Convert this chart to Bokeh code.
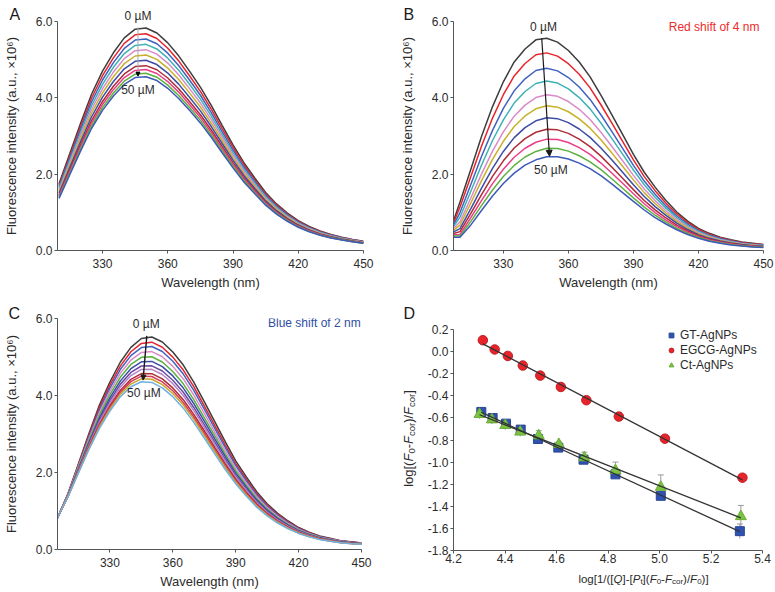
import numpy as np
from bokeh.plotting import figure
from bokeh.layouts import row, column
from bokeh.models import (Label, Arrow, NormalHead, Legend, LegendItem, Whisker,
                          ColumnDataSource, FixedTicker, NumeralTickFormatter, Range1d, TeeHead)
from bokeh.embed import file_html
from bokeh.resources import INLINE

FONT = "Liberation Sans"
TXT = "#2b2b2b"
AX = "#555555"

# ---------------- data: panel A ----------------
A_wl = list(range(310, 451, 5))
A_base = [1.75, 2.55, 3.35, 4.10, 4.70, 5.18, 5.57, 5.80, 5.83, 5.70, 5.44, 5.10, 4.70, 4.28, 3.80,
          3.28, 2.77, 2.30, 1.90, 1.52, 1.22, 0.98, 0.78, 0.63, 0.51, 0.42, 0.35, 0.29, 0.24]
A_peaks = [5.85, 5.70, 5.56, 5.42, 5.28, 5.14, 5.00, 4.86, 4.76, 4.66, 4.57]
A_peak_nm = [346.3] * 11

# ---------------- data: panel B ----------------
B_wl = [307] + list(range(310, 451, 5))
B_base = [0.78, 1.27, 2.13, 3.00, 3.77, 4.42, 4.94, 5.28, 5.52, 5.56, 5.46, 5.24, 4.94, 4.55, 4.07,
          3.56, 3.04, 2.52, 2.05, 1.66, 1.31, 1.01, 0.77, 0.58, 0.45, 0.35, 0.28, 0.22, 0.19, 0.16]
B_peaks = [5.56, 5.18, 4.78, 4.45, 4.09, 3.80, 3.49, 3.19, 2.93, 2.69, 2.47]
B_peak_nm = [347.7, 348.0, 348.4, 348.8, 349.2, 349.5, 349.9, 350.2, 350.6, 350.9, 351.3]

# ---------------- data: panel C ----------------
C_wl = list(range(305, 451, 5))
C_base = [0.82, 1.45, 2.23, 3.01, 3.75, 4.35, 4.87, 5.25, 5.48, 5.52, 5.39, 5.13, 4.79, 4.35, 3.84,
          3.32, 2.80, 2.30, 1.89, 1.50, 1.19, 0.94, 0.74, 0.57, 0.45, 0.35, 0.29, 0.23, 0.20, 0.17]
C_peaks = [5.55, 5.42, 5.31, 5.18, 5.05, 4.93, 4.82, 4.73, 4.62, 4.55, 4.48, 4.40]
C_peak_nm = [347.6, 347.4, 347.3, 347.1, 346.9, 346.8, 346.6, 346.5, 346.3, 346.1, 346.0, 345.8]

AB_colors = ["#3d3d3d", "#e8242b", "#4063c0", "#3fb1b5", "#d98bc9", "#c7b12a",
             "#3b4da6", "#ae2b38", "#ea3f86", "#5cb13f", "#3e5ab8"]
C_colors = ["#3d3d3d", "#e8242b", "#4063c0", "#d98bc9", "#5cb13f", "#3b4da6",
            "#6c4ba0", "#b583c9", "#ae2b38", "#d63c5a", "#c7a62a", "#6fb0e5"]

# ---------------- data: panel D ----------------
D_x_gt = [4.308, 4.352, 4.404, 4.461, 4.528, 4.607, 4.705, 4.829, 5.005, 5.312]
D_y_gt = [-0.546, -0.601, -0.652, -0.706, -0.791, -0.869, -0.978, -1.111, -1.305, -1.625]
D_err_gt = [0.01, 0.01, 0.01, 0.01, 0.01, 0.01, 0.01, 0.01, 0.02, 0.065]
D_x_egcg = [4.314, 4.360, 4.411, 4.469, 4.537, 4.617, 4.716, 4.842, 5.021, 5.322]
D_y_egcg = [0.103, 0.019, -0.039, -0.126, -0.217, -0.320, -0.440, -0.588, -0.788, -1.141]
D_x_ct = [4.301, 4.349, 4.401, 4.459, 4.531, 4.609, 4.708, 4.829, 5.005, 5.316]
D_y_ct = [-0.567, -0.616, -0.667, -0.727, -0.761, -0.839, -0.960, -1.075, -1.226, -1.492]
D_err_ct = [0.04, 0.04, 0.04, 0.04, 0.045, 0.02, 0.05, 0.075, 0.11, 0.10]

# char widths (Arial metrics, em) for composite labels
CW = {'l': .222, 'o': .556, 'g': .556, '[': .278, ']': .278, '(': .333, ')': .333, 'F': .611,
      '-': .333, 'c': .5, 'r': .333, '/': .278, '0': .556, '1': .556, 'Q': .778, 'P': .667, 't': .278}


def tw(s, fs):
    return sum(CW.get(ch, 0.55) for ch in s) * fs


def rich(p, segs, cx, cy, fs, sfs, vertical=False, drop=3):
    widths = [tw(t, sfs if sub else fs) for t, it, sub in segs]
    pos = -sum(widths) / 2
    for (t, it, sub), w in zip(segs, widths):
        kw = dict(text=t, x_units="screen", y_units="screen", text_font=FONT,
                  text_font_size=f"{sfs if sub else fs}px",
                  text_font_style="italic" if it else "normal", text_color=TXT,
                  text_align="left", text_baseline="alphabetic")
        if vertical:
            lab = Label(x=cx + (drop if sub else 0), y=cy + pos, angle=np.pi / 2, **kw)
        else:
            lab = Label(x=cx + pos, y=cy - (drop if sub else 0), **kw)
        p.add_layout(lab)
        pos += w


def style(p, xticks, yticks, xfmt=None):
    p.outline_line_color = None
    p.xgrid.visible = False
    p.ygrid.visible = False
    p.xaxis.ticker = FixedTicker(ticks=xticks)
    p.yaxis.ticker = FixedTicker(ticks=yticks)
    p.yaxis.formatter = NumeralTickFormatter(format="0.0")
    if xfmt:
        p.xaxis.formatter = NumeralTickFormatter(format=xfmt)
    for ax in p.axis:
        ax.axis_line_color = AX
        ax.major_tick_line_color = AX
        ax.major_tick_out = 3
        ax.major_tick_in = 0
        ax.minor_tick_out = 0
        ax.minor_tick_in = 0
        ax.major_label_text_font = FONT
        ax.major_label_text_font_size = "12px"
        ax.major_label_text_color = TXT
        ax.axis_label_text_font = FONT
        ax.axis_label_text_font_size = "13px"
        ax.axis_label_text_font_style = "normal"
        ax.axis_label_text_color = TXT
    p.xaxis.major_label_standoff = 5
    p.yaxis.major_label_standoff = 2
    p.xaxis.axis_label_standoff = 4
    p.yaxis.axis_label_standoff = 14


def letter(p, t, x, y, xo, yo):
    p.add_layout(Label(x=x, y=y, x_offset=xo, y_offset=yo, text=t, text_font=FONT,
                       text_font_size="16px", text_color="#1a1a1a", text_baseline="alphabetic"), "above")


def note(p, t, x, y, color=TXT, side=None, yo=0):
    lab = Label(x=x, y=y, y_offset=yo, text=t, text_font=FONT, text_font_size="12px", text_color=color,
                text_align="center", text_baseline="middle")
    if side:
        p.add_layout(lab, side)
    else:
        p.add_layout(lab)


def spectra(width, height, xstart, mb, wl, base, peaks, peak_nm, colors):
    p = figure(width=width, height=height, x_range=Range1d(xstart, 450), y_range=Range1d(0, 6.0),
               output_backend="svg", toolbar_location=None,
               min_border_left=mb[0], min_border_right=mb[1], min_border_top=mb[2], min_border_bottom=mb[3])
    style(p, [330, 360, 390, 420, 450], [0, 2, 4, 6])
    p.xaxis.axis_label = "Wavelength (nm)"
    p.yaxis.axis_label = "Fluorescence intensity (a.u., \u00d710\u2076)"
    wl = np.array(wl, float)
    base = np.array(base, float)
    for pk, nm, c in zip(peaks, peak_nm, colors):
        shift = nm - peak_nm[0]
        y = np.interp(wl - shift, wl, base) * pk / peaks[0]
        p.line(wl, y, line_color=c, line_width=1.5)
    return p


def blank(width, height):
    p = figure(width=width, height=height, x_range=Range1d(0, 1), y_range=Range1d(0, 1),
               output_backend="svg", toolbar_location=None, min_border=0,
               min_border_left=0, min_border_right=0, min_border_top=0, min_border_bottom=0,
               x_axis_location=None, y_axis_location=None)
    p.outline_line_color = None
    p.grid.visible = False
    return p


# ---------------- Panel A ----------------
A_x0 = 309.3
pA = spectra(390, 292, A_x0, (53, 27, 21, 40), A_wl, A_base, A_peaks, A_peak_nm, AB_colors)
pA.add_layout(Arrow(x_start=A_peak_nm[0], y_start=A_peaks[0], x_end=A_peak_nm[-1], y_end=A_peaks[-1],
                    line_color="#aaaaaa", line_width=1,
                    end=NormalHead(size=4, fill_color="black", line_color="black")))
note(pA, "0 \u00b5M", A_peak_nm[0], 6.0, side="right", yo=6)
note(pA, "50 \u00b5M", A_peak_nm[-1], A_peaks[-1] - 0.36)
letter(pA, "A", A_x0, 6.0, -48, 7)

# ---------------- Panel B ----------------
B_x0 = 307
pB = spectra(385, 292, B_x0, (63, 12, 21, 40), B_wl, B_base, B_peaks, B_peak_nm, AB_colors)
pB.add_layout(Arrow(x_start=B_peak_nm[0], y_start=B_peaks[0], x_end=B_peak_nm[-1], y_end=B_peaks[-1],
                    line_color="#1a1a1a", line_width=1.2,
                    end=NormalHead(size=6, fill_color="#1a1a1a", line_color="#1a1a1a")))
note(pB, "0 \u00b5M", B_peak_nm[0] + 0.8, B_peaks[0] + 0.30)
note(pB, "50 \u00b5M", B_peak_nm[-1] + 0.6, B_peaks[-1] - 0.36)
note(pB, "Red shift of 4 nm", 427.2, 5.86, "#ee2a2a")
letter(pB, "B", B_x0, 6.0, -50, 7)

# ---------------- Panel C ----------------
C_x0 = 305
pC = spectra(385, 299, C_x0, (53, 24, 26, 42), C_wl, C_base, C_peaks, C_peak_nm, C_colors)
pC.add_layout(Arrow(x_start=C_peak_nm[0], y_start=C_peaks[0], x_end=C_peak_nm[-1], y_end=C_peaks[-1],
                    line_color="#1a1a1a", line_width=1.4,
                    end=NormalHead(size=5, fill_color="#1a1a1a", line_color="#1a1a1a")))
note(pC, "0 \u00b5M", C_peak_nm[0] - 0.3, C_peaks[0] + 0.30)
note(pC, "50 \u00b5M", C_peak_nm[-1] + 0.4, C_peaks[-1] - 0.33)
note(pC, "Blue shift of 2 nm", 427.5, 5.88, "#2f4ea3")
letter(pC, "C", C_x0, 6.0, -49, 5)

# ---------------- Panel D ----------------
pD = figure(width=356, height=276, x_range=Range1d(4.2, 5.4), y_range=Range1d(-1.8, 0.2),
            output_backend="svg", toolbar_location=None,
            min_border_left=34, min_border_right=13, min_border_top=37, min_border_bottom=18)
style(pD, [4.2, 4.4, 4.6, 4.8, 5.0, 5.2, 5.4],
      [-1.8, -1.6, -1.4, -1.2, -1.0, -0.8, -0.6, -0.4, -0.2, 0.0, 0.2], xfmt="0.0")
pD.xaxis.major_label_standoff = 0

for xs, ys, es in [(D_x_gt, D_y_gt, D_err_gt), (D_x_ct, D_y_ct, D_err_ct)]:
    src = ColumnDataSource(dict(x=xs, upper=[a + b for a, b in zip(ys, es)],
                                lower=[a - b for a, b in zip(ys, es)]))
    pD.add_layout(Whisker(source=src, base="x", upper="upper", lower="lower", dimension="height",
                          line_color="#9a9a9a", line_width=1, level="underlay",
                          upper_head=TeeHead(size=6, line_color="#9a9a9a", line_width=1),
                          lower_head=None))

r_gt = pD.scatter(D_x_gt, D_y_gt, marker="square", size=9, fill_color="#2f52b0", line_color="#2a4596")
r_eg = pD.scatter(D_x_egcg, D_y_egcg, marker="circle", size=9.5, fill_color="#e8232a", line_color="#c01f25")
r_ct = pD.scatter(D_x_ct, D_y_ct, marker="triangle", size=11, fill_color="#7cc242", line_color="#6aae36")

for xs, ys in [(D_x_gt, D_y_gt), (D_x_egcg, D_y_egcg), (D_x_ct, D_y_ct)]:
    fit = np.polyfit(xs, ys, 1)
    xx = np.array([min(xs), max(xs)])
    pD.line(xx, np.polyval(fit, xx), line_color="#333333", line_width=1.3)

legend = Legend(items=[LegendItem(label="GT-AgNPs", renderers=[r_gt]),
                       LegendItem(label="EGCG-AgNPs", renderers=[r_eg]),
                       LegendItem(label="Ct-AgNPs", renderers=[r_ct])],
                location=(212, 178), border_line_color=None, background_fill_alpha=0,
                label_text_font=FONT, label_text_font_size="12px", label_text_color=TXT,
                glyph_width=12, glyph_height=14, label_height=14, spacing=1, padding=0, margin=0,
                label_standoff=3)
pD.add_layout(legend)

# helper strips holding the panel letter and composite axis titles of panel D
dY = blank(34, 299)
dY.add_layout(Label(x=0, y=1, x_offset=18, y_offset=5, text="D", text_font=FONT,
                    text_font_size="16px", text_color="#1a1a1a", text_baseline="alphabetic"), "above")
rich(dY, [("log[(", False, False), ("F", True, False), ("0", False, True), ("-", False, False),
          ("F", True, False), ("cor", False, True), (")/", False, False), ("F", True, False),
          ("cor", False, True), ("]", False, False)],
     23, 111, 13, 9.5, vertical=True)
dX = blank(356, 23)
rich(dX, [("log[1/([", False, False), ("Q", True, False), ("]-[", False, False), ("P", True, False),
          ("t", False, True), ("](", False, False), ("F", True, False), ("0", False, True),
          ("-", False, False), ("F", True, False), ("cor", False, True), (")/", False, False),
          ("F", True, False), ("0", False, True), (")]", False, False)],
     190, 13, 11.5, 8)

layout = column(row(pA, pB), row(pC, dY, column(pD, dX)))
open("out.html", "w").write(file_html(layout, INLINE))
